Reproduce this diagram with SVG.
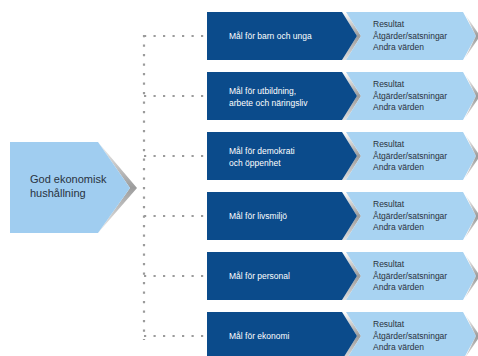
<svg xmlns="http://www.w3.org/2000/svg" width="478" height="356" viewBox="0 0 478 356">
<defs>
<linearGradient id="gap" x1="0" y1="0" x2="0" y2="1">
<stop offset="0" stop-color="#ffffff"/>
<stop offset="0.5" stop-color="#9a9a9a"/>
<stop offset="1" stop-color="#e0e0e0"/>
</linearGradient>
<linearGradient id="shadeL" x1="0" y1="0" x2="0" y2="1">
<stop offset="0" stop-color="#f2f2f2"/>
<stop offset="0.5" stop-color="#9c9c9c"/>
<stop offset="1" stop-color="#ececec"/>
</linearGradient>
<g id="row">
<polygon class="gap" points="342,0 357,24 342,48 346,48 361,24 346,0"/>
<polygon class="dark" points="207,0 342,0 357,24 342,48 207,48"/>
<polygon class="light" points="346,0 463,0 476,24 463,48 346,48 361,24"/>
<polygon class="gap" points="465,2 480,24 465,46 476,24"/>
</g>
</defs>
<style>
.dark{fill:#0b4b8b}
.light{fill:#a8d3f2}
.gap{fill:url(#gap)}
.dots{stroke:#9b9b9b;stroke-width:2.2;fill:none;stroke-dasharray:2.2 7.3}
.w{font-family:"Liberation Sans",Arial,sans-serif;font-size:8.5px;fill:#ffffff}
.t{font-family:"Liberation Sans",Arial,sans-serif;font-size:8.5px;fill:#28323e}
.big{font-family:"Liberation Sans",Arial,sans-serif;font-size:11px;fill:#28323e}
</style>
<rect width="478" height="356" fill="#ffffff"/>
<g id="connectors">
<line class="dots" x1="144" y1="35" x2="144" y2="340"/>
<line class="dots" x1="144" y1="36" x2="204" y2="36"/>
<line class="dots" x1="144" y1="96" x2="204" y2="96"/>
<line class="dots" x1="144" y1="156" x2="204" y2="156"/>
<line class="dots" x1="144" y1="216" x2="204" y2="216"/>
<line class="dots" x1="144" y1="276" x2="204" y2="276"/>
<line class="dots" x1="144" y1="336" x2="204" y2="336"/>
</g>
<g id="god">
<polygon points="98,142 137,188 98,233 130,188" fill="url(#shadeL)"/>
<polygon points="10,142 98,142 130,188 98,233 10,233" fill="#a0cdf0"/>
<text class="big" x="30" y="183">God ekonomisk</text>
<text class="big" x="30" y="197">hushållning</text>
</g>
<g id="n1" transform="translate(0,12)">
<use href="#row"/>
<text class="w" x="229" y="27">Mål för barn och unga</text>
<text class="t" x="373" y="15">Resultat</text>
<text class="t" x="373" y="27">Åtgärder/satsningar</text>
<text class="t" x="373" y="38">Andra värden</text>
</g>
<g id="n2" transform="translate(0,72)">
<use href="#row"/>
<text class="w" x="229" y="22">Mål för utbildning,</text>
<text class="w" x="229" y="34">arbete och näringsliv</text>
<text class="t" x="373" y="15">Resultat</text>
<text class="t" x="373" y="27">Åtgärder/satsningar</text>
<text class="t" x="373" y="38">Andra värden</text>
</g>
<g id="n3" transform="translate(0,132)">
<use href="#row"/>
<text class="w" x="229" y="22">Mål för demokrati</text>
<text class="w" x="229" y="34">och öppenhet</text>
<text class="t" x="373" y="15">Resultat</text>
<text class="t" x="373" y="27">Åtgärder/satsningar</text>
<text class="t" x="373" y="38">Andra värden</text>
</g>
<g id="n4" transform="translate(0,192)">
<use href="#row"/>
<text class="w" x="229" y="27">Mål för livsmiljö</text>
<text class="t" x="373" y="15">Resultat</text>
<text class="t" x="373" y="27">Åtgärder/satsningar</text>
<text class="t" x="373" y="38">Andra värden</text>
</g>
<g id="n5" transform="translate(0,252)">
<use href="#row"/>
<text class="w" x="229" y="27">Mål för personal</text>
<text class="t" x="373" y="15">Resultat</text>
<text class="t" x="373" y="27">Åtgärder/satsningar</text>
<text class="t" x="373" y="38">Andra värden</text>
</g>
<g id="n6" transform="translate(0,312)">
<use href="#row"/>
<text class="w" x="229" y="27">Mål för ekonomi</text>
<text class="t" x="373" y="15">Resultat</text>
<text class="t" x="373" y="27">Åtgärder/satsningar</text>
<text class="t" x="373" y="38">Andra värden</text>
</g>
</svg>
